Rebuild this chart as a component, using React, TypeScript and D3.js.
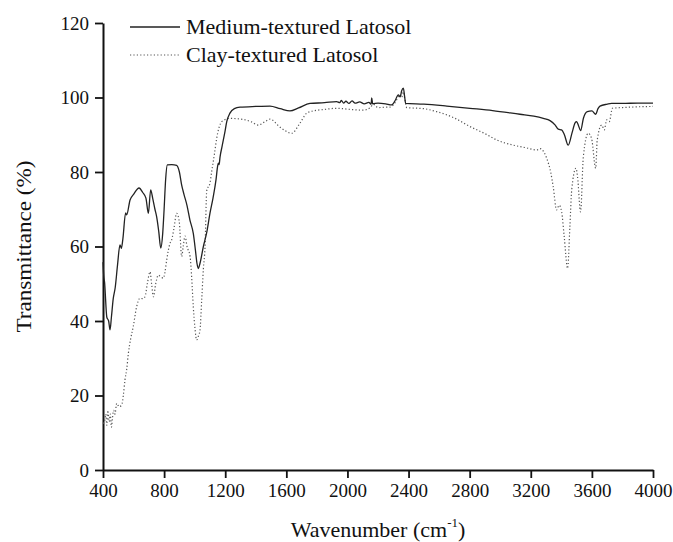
import React, { useEffect, useRef } from "react";
import * as d3 from "d3";

const mediumWave = [400,405,410,425,437,446,455,467,480,495,511,520,530,548,555,577,600,636,660,681,697,712,725,740,751,765,778,791,800,810,821,850,882,900,915,930,950,969,991,1005,1015,1024,1035,1057,1080,1100,1120,1140,1150,1155,1160,1166,1180,1199,1210,1231,1260,1297,1400,1493,1560,1624,1680,1755,1850,1929,1950,1960,1975,1990,2010,2030,2050,2080,2110,2140,2155,2159,2165,2200,2250,2289,2310,2333,2345,2355,2366,2375,2381,2500,2650,2802,2950,3129,3220,3282,3326,3360,3380,3402,3420,3445,3470,3490,3500,3512,3526,3545,3570,3600,3625,3640,3653,3700,3729,3800,3900,4000];
const mediumT = [55.8,52,50.5,41,40,37.6,41,46,49,55,60.4,59.5,62,69,68.5,72.5,74,75.7,74.5,73,68.9,75.2,73,70,68,64,59.6,63.6,70,78,81.9,82,81.8,80,76.5,74,71,67.1,63.5,59,55.5,54.1,55.5,60,64,68.9,73,78,81.5,82.4,82,84,87,91,93.5,95.8,97,97.4,97.6,97.7,97,96.4,97.2,98.4,98.6,98.9,98.6,99.2,98.5,99,98.4,99.1,98.5,98.8,98.3,98.7,98.2,99.9,98.3,98.5,98.3,98,99,100.7,100.2,101.8,102.5,100,98.4,98.2,97.7,97.1,96.5,95.5,95,94.4,93.8,92.6,91.5,91.3,90,87.2,90.5,93.2,93.5,92.5,91.1,94.5,96.2,96.4,95.5,97,97.7,98.2,98.4,98.4,98.5,98.5];

const clayWave = [400,410,418,425,432,440,448,455,462,470,478,490,505,522,533,544,555,566,580,598,620,642,660,675,690,708,718,730,745,762,775,795,805,817,838,849,865,882,899,915,925,937,950,970,980,991,1002,1013,1025,1035,1046,1057,1068,1079,1100,1111,1130,1144,1160,1177,1200,1231,1318,1370,1417,1460,1493,1560,1635,1689,1733,1755,1850,1929,2020,2104,2150,2169,2200,2257,2278,2310,2344,2355,2366,2378,2388,2500,2584,2700,2802,2900,2977,3086,3170,3239,3260,3304,3330,3347,3369,3386,3402,3419,3441,3456,3468,3496,3506,3526,3544,3576,3598,3625,3635,3664,3681,3697,3714,3734,3800,3900,4000];
const clayT = [12.5,13,15,12,16,13,15,11.5,14,16,15,17.9,17,17.4,20,24.2,27,31.3,35,38.5,43.8,46.1,46,46.5,50,53.2,50,46.5,50,52.3,52,51.5,53,56.4,60.8,61.7,65,68.9,66.7,57.3,60,62.8,60,57.3,52,43.8,38,34.9,36,37.6,45.6,54,60,75,77,80,85,89,92,93.5,94.1,94.4,94.1,93.5,92.6,93.5,94.2,92,90.4,93.1,95.8,96.2,96.8,97.1,96.8,96.6,97.3,98.2,97.3,97.4,97.4,98.5,100.7,100,101.5,99,97.3,97,96.2,94.5,92.2,90.3,88.6,87.2,86.5,85.9,86.3,83.7,80,76,69.8,71.1,69.3,62.6,54.1,65.3,75.2,81,78.7,69.3,84.1,90.4,89,81,88.6,92.6,91.3,94,93.5,97.1,97.3,97.5,97.6];

const xTicks = [400, 800, 1200, 1600, 2000, 2400, 2800, 3200, 3600, 4000];
const yTicks = [0, 20, 40, 60, 80, 100, 120];
const seriesNames = ["Medium-textured Latosol", "Clay-textured Latosol"];

const W = 673, H = 542;
const M = { left: 103, right: 20, top: 23, bottom: 72 };

export default function App() {
  const ref = useRef<SVGSVGElement>(null);
  useEffect(() => {
    const svg = d3.select(ref.current);
    svg.selectAll("*").remove();
    const x = d3.scaleLinear().domain([400, 4000]).range([M.left, W - M.right]);
    const y = d3.scaleLinear().domain([0, 120]).range([H - M.bottom, M.top]);
    const font = "'Liberation Serif', 'Times New Roman', serif";

    const xMinor = d3.range(600, 4000, 400);
    const yMinor = d3.range(10, 120, 20);
    const gx = svg.append("g").attr("transform", `translate(0,${y(0)})`);
    gx.call(d3.axisBottom(x).tickValues(xMinor).tickSize(5).tickFormat(() => "") as any);
    gx.call(d3.axisBottom(x).tickValues(xTicks).tickSize(8).tickSizeOuter(0).tickPadding(6).tickFormat(d3.format("d")) as any);
    const gy = svg.append("g").attr("transform", `translate(${x(400)},0)`);
    gy.call(d3.axisLeft(y).tickValues(yMinor).tickSize(5).tickFormat(() => "") as any);
    gy.call(d3.axisLeft(y).tickValues(yTicks).tickSize(8).tickSizeOuter(0).tickPadding(6).tickFormat(d3.format("d")) as any);
    svg.selectAll(".domain").attr("stroke", "#111").attr("stroke-width", 2);
    svg.selectAll(".tick line").attr("stroke", "#111").attr("stroke-width", 1.8);
    svg.selectAll(".tick text").attr("font-family", font).attr("font-size", 19).attr("fill", "#111");

    const line = d3.line<[number, number]>().x(d => x(d[0])).y(d => y(d[1])).curve(d3.curveMonotoneX);
    const med = mediumWave.map((w, i) => [w, mediumT[i]] as [number, number]);
    const clay = clayWave.map((w, i) => [w, clayT[i]] as [number, number]);
    svg.append("path").attr("d", line(clay)!).attr("fill", "none").attr("stroke", "#555").attr("stroke-width", 1.2).attr("stroke-dasharray", "1.2 2.2");
    svg.append("path").attr("d", line(med)!).attr("fill", "none").attr("stroke", "#222").attr("stroke-width", 1.3);

    const lg = svg.append("g");
    lg.append("line").attr("x1", 130).attr("x2", 180).attr("y1", 27).attr("y2", 27).attr("stroke", "#222").attr("stroke-width", 1.3);
    lg.append("text").attr("x", 186).attr("y", 34).text(seriesNames[0]).attr("font-family", font).attr("font-size", 22).attr("fill", "#111");
    lg.append("line").attr("x1", 130).attr("x2", 180).attr("y1", 55).attr("y2", 55).attr("stroke", "#555").attr("stroke-width", 1.2).attr("stroke-dasharray", "1.2 2.2");
    lg.append("text").attr("x", 186).attr("y", 62).text(seriesNames[1]).attr("font-family", font).attr("font-size", 22).attr("fill", "#111");

    const xt = svg.append("text").attr("x", (x(400) + x(4000)) / 2).attr("y", 537).attr("text-anchor", "middle")
      .attr("font-family", font).attr("font-size", 22).attr("fill", "#111");
    xt.append("tspan").text("Wavenumber (cm");
    xt.append("tspan").text("-1").attr("font-size", 13).attr("dy", -10);
    xt.append("tspan").text(")").attr("dy", 10);
    svg.append("text").attr("transform", `translate(31,${(y(0) + y(120)) / 2}) rotate(-90)`).attr("text-anchor", "middle")
      .attr("font-family", font).attr("font-size", 22).attr("fill", "#111")
      .attr("textLength", 172).attr("lengthAdjust", "spacingAndGlyphs").text("Transmittance (%)");
  }, []);
  return (
    <svg ref={ref} width={W} height={H} style={{ position: "absolute", left: 0, top: 0, background: "#fff" }} />
  );
}
